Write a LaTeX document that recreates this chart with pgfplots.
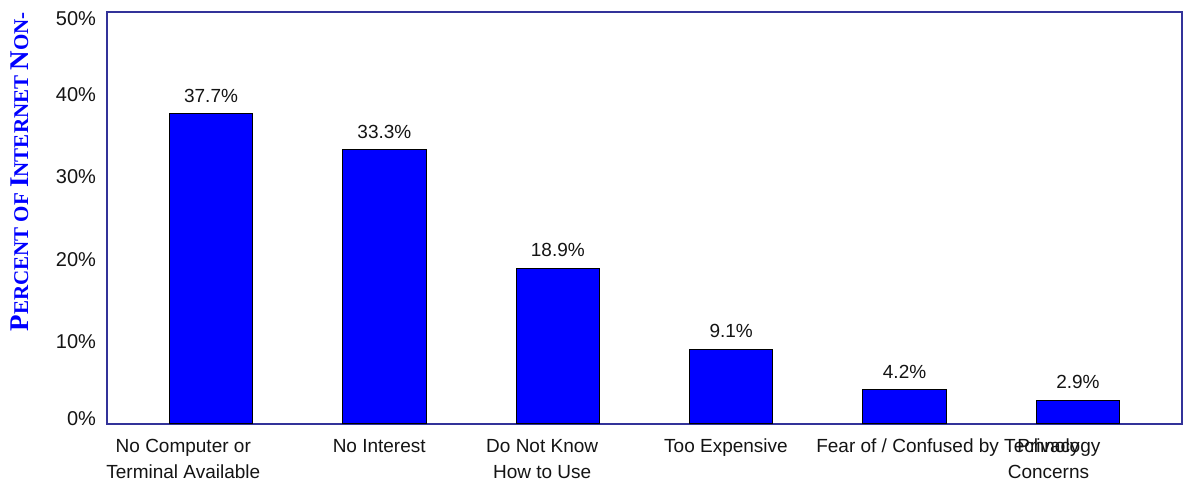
\documentclass[border=0pt]{standalone}
\usepackage{fontspec}
\setmainfont{Liberation Sans}
\newfontfamily\serifbold{Liberation Serif}[BoldFont={Liberation Serif Bold}]
\usepackage{pgfplots}
\pgfplotsset{compat=1.18}
\definecolor{framec}{RGB}{51,51,153}
\definecolor{barblue}{RGB}{0,0,255}
\definecolor{labblue}{RGB}{0,0,255}
\definecolor{txt}{RGB}{20,20,20}
\begin{document}
\begin{tikzpicture}
\begin{axis}[
  name=ax,
  scale only axis,
  width=537.5pt, height=206pt,
  xmin=-0.6, xmax=5.6,
  ymin=0, ymax=50,
  /pgf/number format/assume math mode=true,
  axis line style={framec, line width=0.8pt},
  major tick length=0pt,
  ytick={0.6,10,20,30,40,49.2},
  yticklabels={0\%,10\%,20\%,30\%,40\%,50\%},
  yticklabel style={font=\fontsize{10}{12}\selectfont, xshift=-2pt, text=txt},
  xtick={-0.16,0.97,1.91,2.97,4.31,4.83},
  xticklabels={{No Computer or\\Terminal Available},{No Interest},{Do Not Know\\How to Use},{Too Expensive},{Fear of / Confused by Technology},{Privacy\\Concerns}},
  xticklabel style={font=\fontsize{9.5}{13}\selectfont, align=center, anchor=north, yshift=-4pt, text=txt},
  ybar, bar width=0.48,
  nodes near coords={\pgfmathprintnumber[fixed,precision=1,fixed zerofill,assume math mode=true]{\pgfplotspointmeta}\%},
  every node near coord/.append style={font=\fontsize{9.5}{11}\selectfont, yshift=2pt, text=txt},
  clip=false,
]
\addplot[fill=barblue, draw=black, line width=0.5pt] coordinates {(0,37.7) (1,33.3) (2,18.9) (3,9.1) (4,4.2) (5,2.9)};
\node[rotate=90, anchor=north east, inner sep=0pt, text=labblue, font=\serifbold\bfseries] at ([xshift=-48.5pt]rel axis cs:0,1)
 {{\fontsize{13.5}{14}\selectfont P}{\fontsize{10.5}{12}\selectfont ERCENT OF }{\fontsize{13.5}{14}\selectfont I}{\fontsize{10.5}{12}\selectfont NTERNET }{\fontsize{13.5}{14}\selectfont N}{\fontsize{10.5}{12}\selectfont ON-}};
\end{axis}
\pgfresetboundingbox
\path (ax.south west) ++(-53.5pt,-31pt) rectangle ++(594pt,243pt);
\end{tikzpicture}
\end{document}
